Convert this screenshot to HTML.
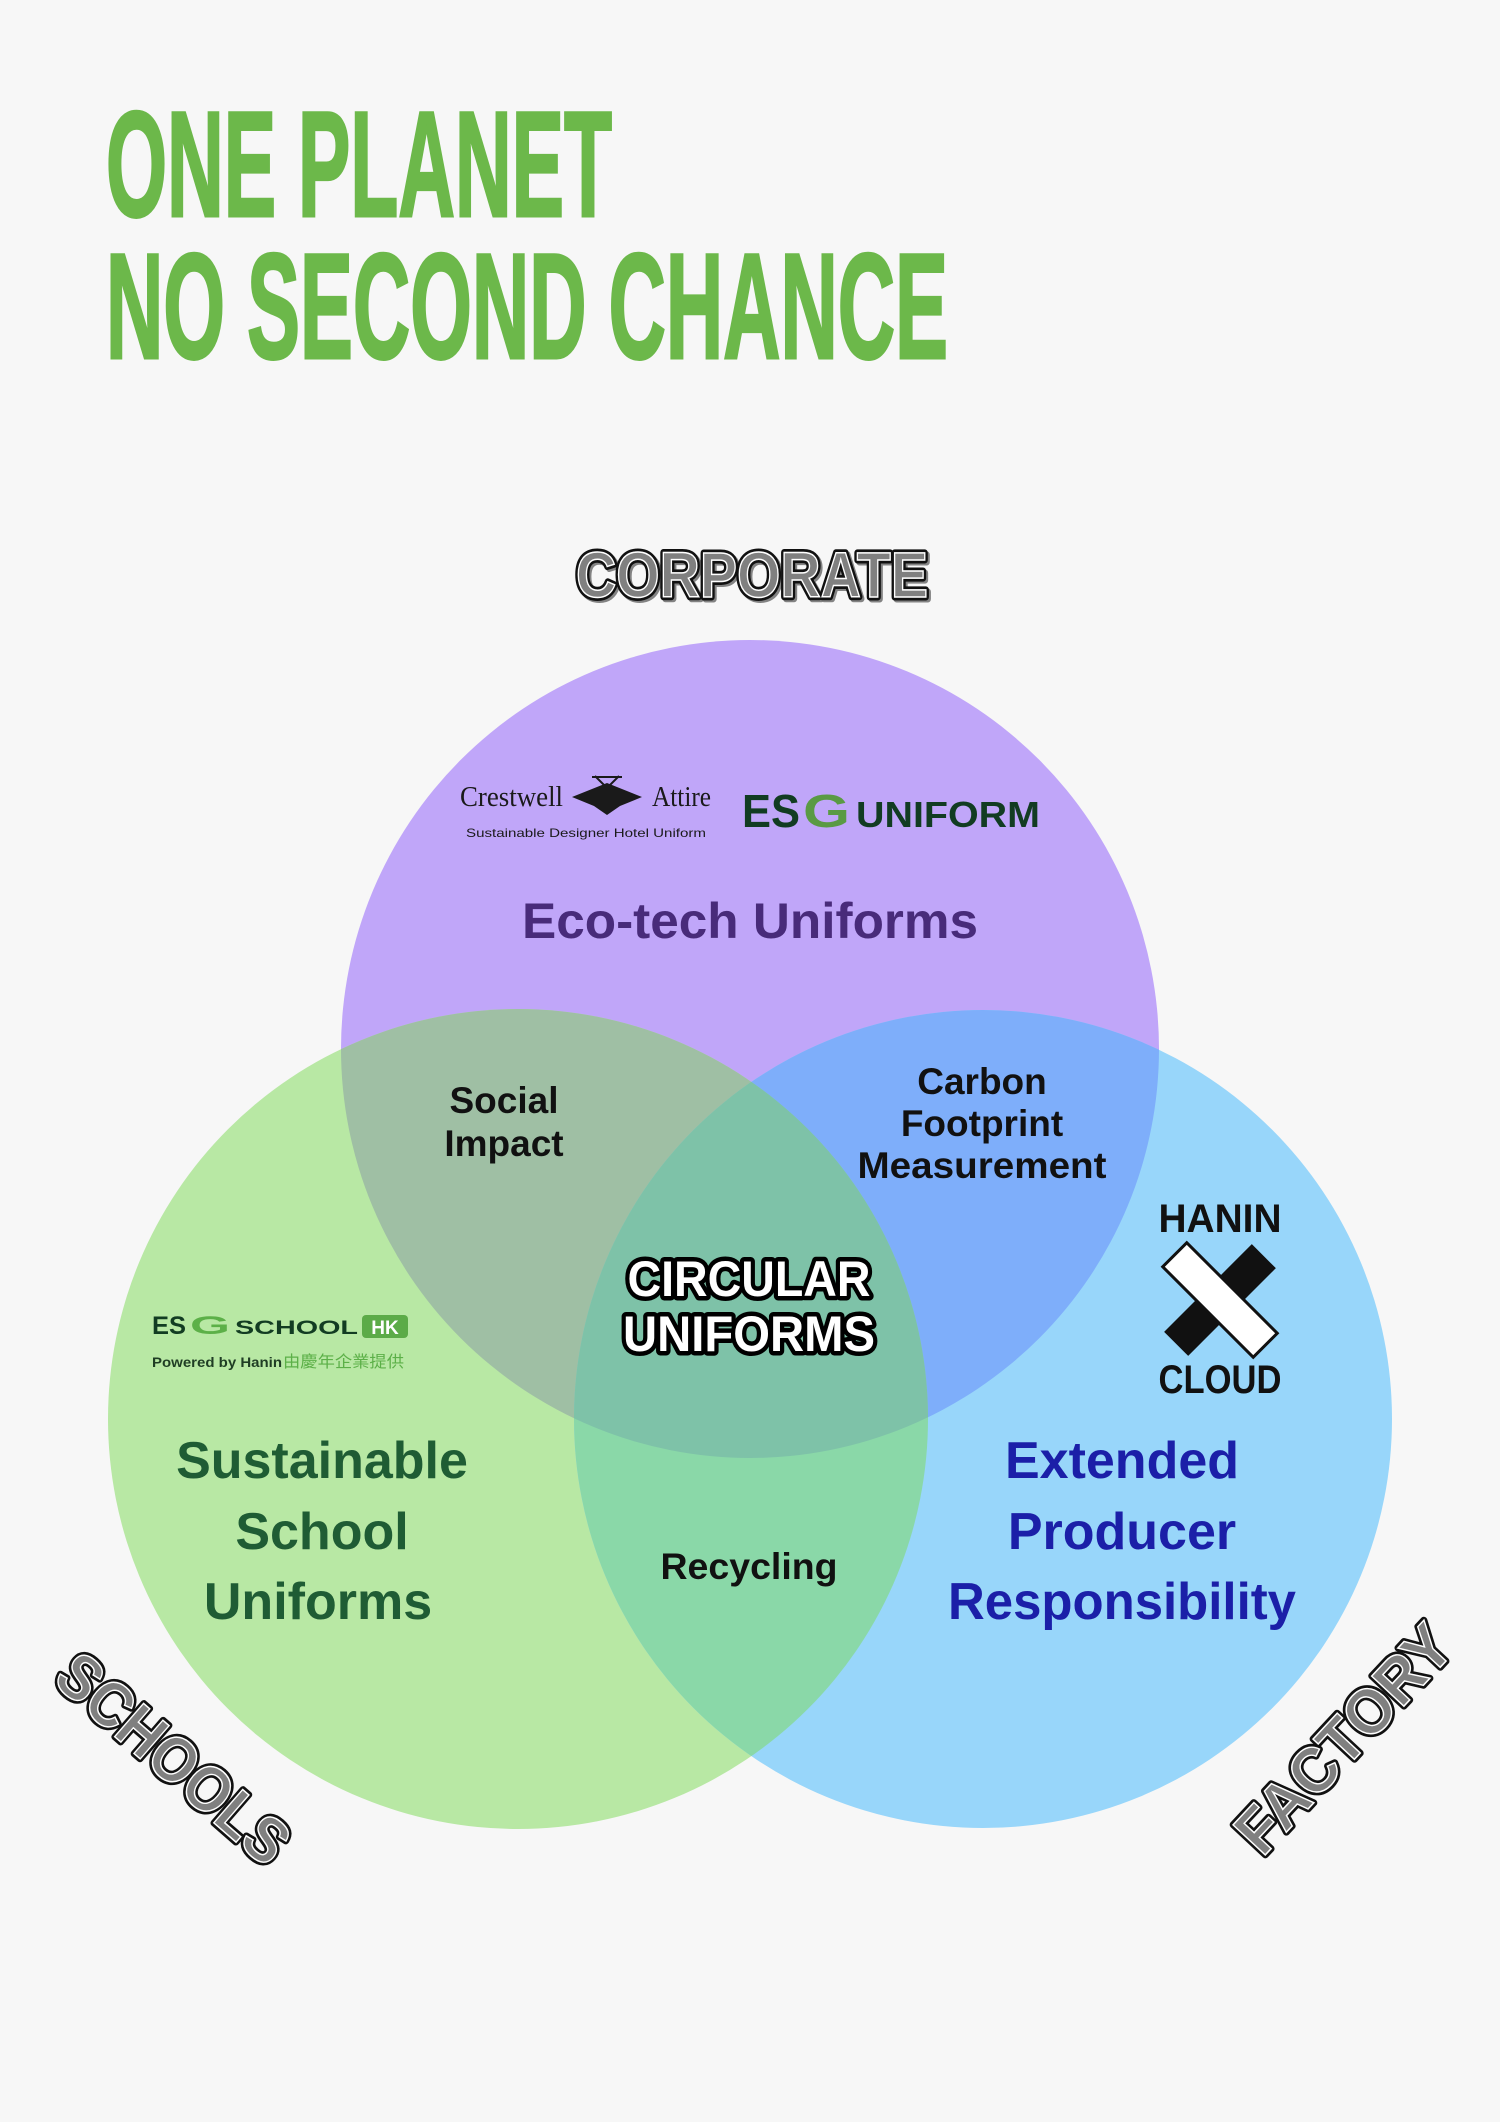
<!DOCTYPE html>
<html><head><meta charset="utf-8"><style>
html,body{margin:0;padding:0;background:#f7f7f7}
svg{display:block}
</style></head><body>
<svg width="1500" height="2122" viewBox="0 0 1500 2122" xmlns="http://www.w3.org/2000/svg" font-family="'Liberation Sans', 'Noto Sans CJK TC', sans-serif">
<defs>
<clipPath id="cP"><circle cx="750" cy="1049" r="409"/></clipPath>
<clipPath id="cG"><circle cx="518" cy="1419" r="410"/></clipPath>
<clipPath id="cB"><circle cx="983" cy="1419" r="409"/></clipPath>
</defs>
<rect width="1500" height="2122" fill="#f7f7f7"/>
<g fill="#6cb84a" font-weight="bold" font-size="150">
<text x="106" y="216" textLength="506" lengthAdjust="spacingAndGlyphs" stroke="#6cb84a" stroke-width="3">ONE PLANET</text>
<text x="106" y="358" textLength="842" lengthAdjust="spacingAndGlyphs" stroke="#6cb84a" stroke-width="3">NO SECOND CHANCE</text>
</g>
<circle cx="750" cy="1049" r="409" fill="#c0a6f9"/>
<circle cx="518" cy="1419" r="410" fill="#b8e8a4"/>
<circle cx="983" cy="1419" r="409" fill="#98d6fa"/>
<g clip-path="url(#cP)"><circle cx="518" cy="1419" r="410" fill="#9fbfa4"/><circle cx="983" cy="1419" r="409" fill="#7eaefa"/></g>
<g clip-path="url(#cG)"><circle cx="983" cy="1419" r="409" fill="#8ad8a8"/></g>
<g clip-path="url(#cG)"><g clip-path="url(#cB)"><circle cx="750" cy="1049" r="409" fill="#7ec2a8"/></g></g>

<g font-weight="bold" font-size="64">
<text x="576" y="597" textLength="352" lengthAdjust="spacingAndGlyphs" fill="none" stroke="#111" stroke-width="7" stroke-linejoin="round" transform="translate(2,2)" opacity="0.5">CORPORATE</text>
<text x="576" y="597" textLength="352" lengthAdjust="spacingAndGlyphs" fill="none" stroke="#111" stroke-width="7" stroke-linejoin="round">CORPORATE</text>
<text x="576" y="597" textLength="352" lengthAdjust="spacingAndGlyphs" fill="#808080" stroke="#fff" stroke-width="1.5">CORPORATE</text>
<g transform="translate(172,1760) rotate(41)">
<text x="0" y="20" text-anchor="middle" textLength="285" lengthAdjust="spacingAndGlyphs" fill="none" stroke="#111" stroke-width="7" stroke-linejoin="round">SCHOOLS</text>
<text x="0" y="20" text-anchor="middle" textLength="285" lengthAdjust="spacingAndGlyphs" fill="#808080" stroke="#fff" stroke-width="1.5">SCHOOLS</text>
</g>
<g transform="translate(1345,1740) rotate(-47)">
<text x="0" y="20" text-anchor="middle" textLength="285" lengthAdjust="spacingAndGlyphs" fill="none" stroke="#111" stroke-width="7" stroke-linejoin="round">FACTORY</text>
<text x="0" y="20" text-anchor="middle" textLength="285" lengthAdjust="spacingAndGlyphs" fill="#808080" stroke="#fff" stroke-width="1.5">FACTORY</text>
</g>
</g>

<g fill="#1a1a1a">
<text x="460" y="806" font-family="'Liberation Serif', serif" font-size="28" textLength="103" lengthAdjust="spacingAndGlyphs">Crestwell</text>
<text x="652" y="806" font-family="'Liberation Serif', serif" font-size="28" textLength="59" lengthAdjust="spacingAndGlyphs">Attire</text>
<polygon points="572,797 607,783 642,797 620,806 607,815 594,806"/>
<path d="M592,777 L622,777 M595,776 L607,788 L619,776" stroke="#1a1a1a" stroke-width="2" fill="none"/>
<text x="466" y="837" font-size="12" textLength="240" lengthAdjust="spacingAndGlyphs">Sustainable Designer Hotel Uniform</text>
</g>
<g font-weight="bold">
<text x="742" y="827" font-size="46" fill="#123c22" textLength="58" lengthAdjust="spacingAndGlyphs">ES</text>
<text x="803" y="827" font-size="46" fill="#5a9a44" textLength="47" lengthAdjust="spacingAndGlyphs">G</text>
<text x="856" y="827" font-size="36" fill="#123c22" textLength="184" lengthAdjust="spacingAndGlyphs">UNIFORM</text>
</g>
<g font-weight="bold">
<text x="152" y="1334" font-size="25" fill="#123c22" textLength="34" lengthAdjust="spacingAndGlyphs">ES</text>
<text x="190" y="1334" font-size="25" fill="#5cb048" textLength="40" lengthAdjust="spacingAndGlyphs">G</text>
<text x="235" y="1334" font-size="19" fill="#123c22" textLength="123" lengthAdjust="spacingAndGlyphs">SCHOOL</text>
<rect x="362" y="1315" width="46" height="23" rx="4" fill="#5cab48"/>
<text x="385" y="1334" font-size="19" fill="#fff" text-anchor="middle">HK</text>
<text x="152" y="1367" font-size="14" fill="#1f3d24" textLength="130" lengthAdjust="spacingAndGlyphs">Powered by Hanin</text>
<text x="283" y="1367" font-size="16" font-weight="normal" fill="#5cb048" textLength="121" lengthAdjust="spacingAndGlyphs">由慶年企業提供</text>
</g>

<text x="750" y="938" text-anchor="middle" font-size="50" font-weight="bold" fill="#482b7a" textLength="456" lengthAdjust="spacingAndGlyphs">Eco-tech Uniforms</text>
<g font-weight="bold" font-size="37" fill="#111" text-anchor="middle">
<text x="504" y="1113">Social</text>
<text x="504" y="1156">Impact</text>
<text x="982" y="1094">Carbon</text>
<text x="982" y="1136">Footprint</text>
<text x="982" y="1178" textLength="249" lengthAdjust="spacingAndGlyphs">Measurement</text>
<text x="749" y="1579" textLength="177" lengthAdjust="spacingAndGlyphs">Recycling</text>
</g>
<g font-weight="bold" font-size="50" text-anchor="middle">
<text x="749" y="1296" textLength="243" lengthAdjust="spacingAndGlyphs" fill="none" stroke="#000" stroke-width="9" stroke-linejoin="round">CIRCULAR</text>
<text x="749" y="1296" textLength="243" lengthAdjust="spacingAndGlyphs" fill="#fff">CIRCULAR</text>
<text x="749" y="1351" textLength="252" lengthAdjust="spacingAndGlyphs" fill="none" stroke="#000" stroke-width="9" stroke-linejoin="round">UNIFORMS</text>
<text x="749" y="1351" textLength="252" lengthAdjust="spacingAndGlyphs" fill="#fff">UNIFORMS</text>
</g>
<g font-weight="bold" font-size="40" fill="#111" text-anchor="middle">
<text x="1220" y="1232" textLength="123" lengthAdjust="spacingAndGlyphs">HANIN</text>
<text x="1220" y="1393" textLength="123" lengthAdjust="spacingAndGlyphs">CLOUD</text>
</g>
<g transform="translate(1220,1300)">
<rect x="-62" y="-17" width="124" height="34" fill="#111" transform="rotate(-45)"/>
<rect x="-64" y="-17" width="128" height="34" fill="#fff" stroke="#111" stroke-width="3" transform="rotate(45)"/>
</g>
<g font-weight="bold" font-size="52" text-anchor="middle">
<g fill="#1f5c34">
<text x="322" y="1478">Sustainable</text>
<text x="322" y="1549">School</text>
<text x="318" y="1619">Uniforms</text>
</g>
<g fill="#1b1fa8">
<text x="1122" y="1478">Extended</text>
<text x="1122" y="1549">Producer</text>
<text x="1122" y="1619" textLength="348" lengthAdjust="spacingAndGlyphs">Responsibility</text>
</g>
</g>
</svg>
</body></html>
